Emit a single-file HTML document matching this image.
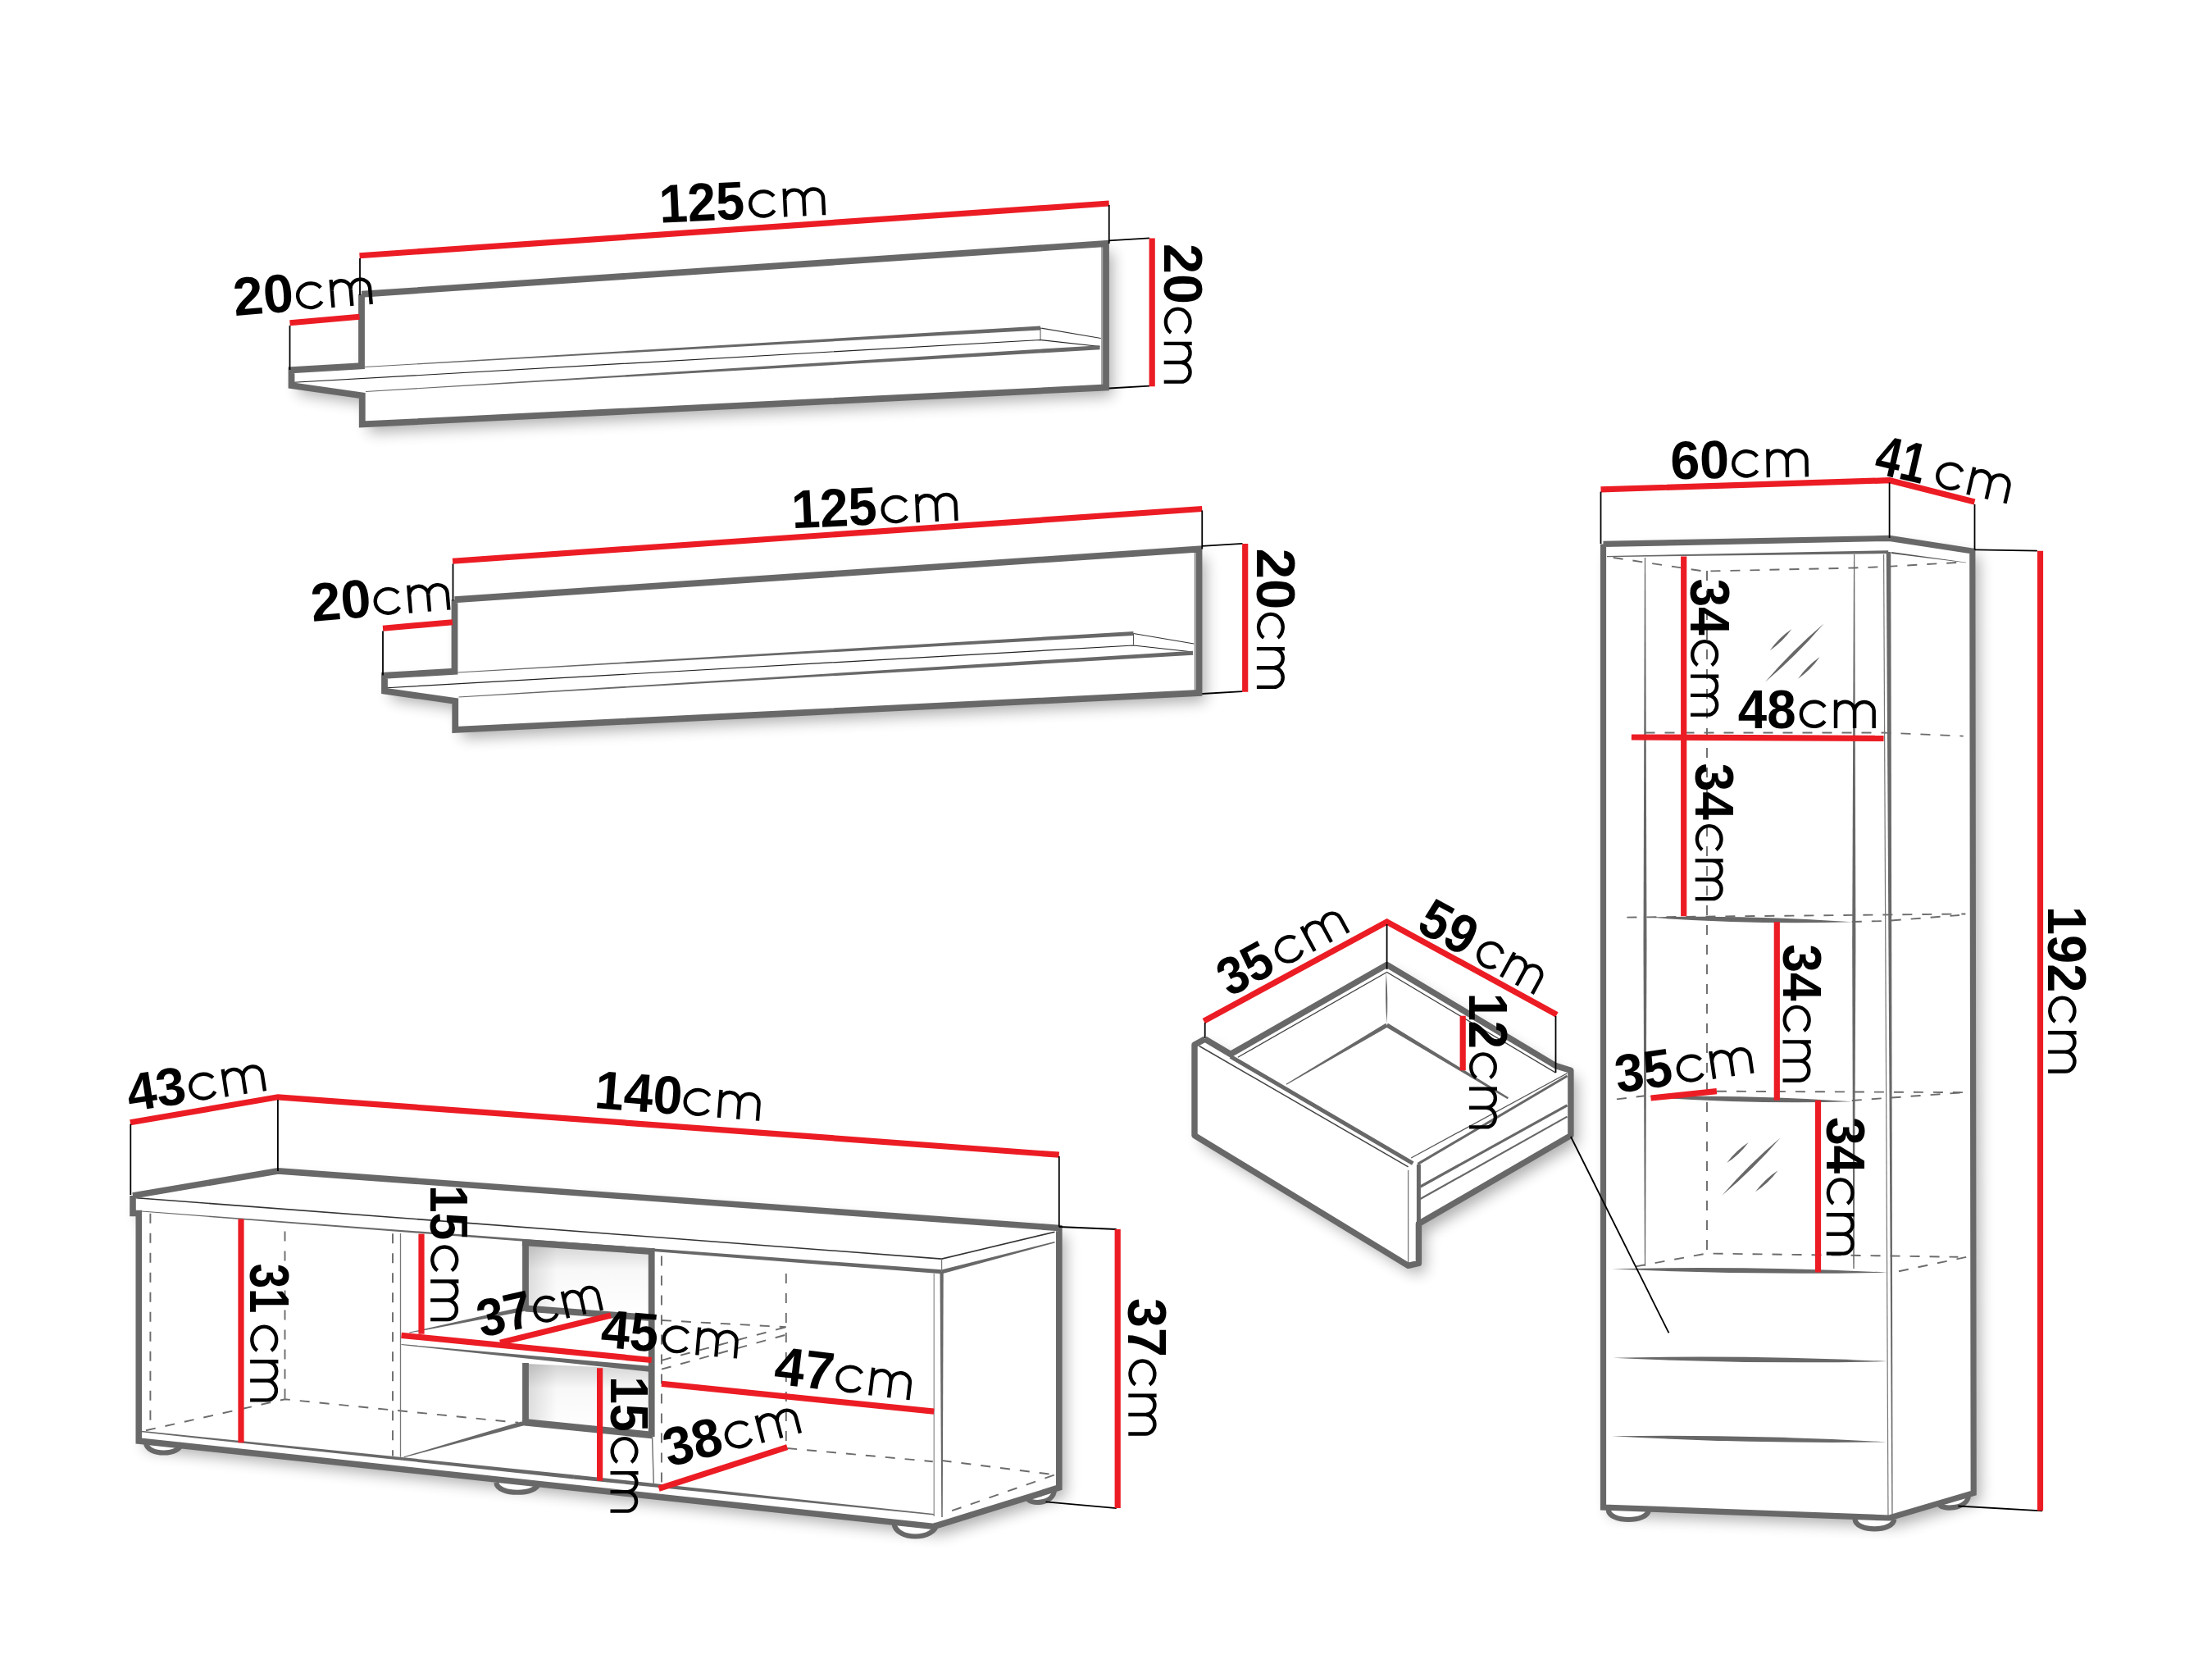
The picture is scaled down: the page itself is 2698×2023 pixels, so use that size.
<!DOCTYPE html><html><head><meta charset="utf-8"><style>html,body{margin:0;padding:0;background:#fff;overflow:hidden}svg{display:block}text{font-family:"Liberation Sans",sans-serif;fill:#000}</style></head><body>
<svg width="2698" height="2023" viewBox="0 0 2698 2023">
<defs><filter id="blur" x="-20%" y="-50%" width="140%" height="200%"><feGaussianBlur stdDeviation="8"/></filter><filter id="ds" x="-20%" y="-20%" width="140%" height="140%"><feGaussianBlur in="SourceAlpha" stdDeviation="9"/><feOffset dx="8" dy="10"/><feComponentTransfer><feFuncA type="linear" slope="0.32"/></feComponentTransfer></filter>
<linearGradient id="niche" x1="0" y1="0" x2="0" y2="1"><stop offset="0" stop-color="#d2d2d2"/><stop offset="0.35" stop-color="#f8f8f8"/><stop offset="1" stop-color="#fff"/></linearGradient><linearGradient id="nicheL" x1="0" y1="0" x2="1" y2="0"><stop offset="0" stop-color="#000" stop-opacity="0.13"/><stop offset="0.25" stop-color="#000" stop-opacity="0"/></linearGradient></defs>
<rect width="2698" height="2023" fill="#fff"/>
<g transform="translate(0.00 0.00)">
<polygon points="441,358.75 1349,297 1349,472.5 441.75,517.5 441.75,482.5 355.5,470 355.5,451.25 441,446.25" fill="#000" filter="url(#ds)"/>
<polygon points="441,358.75 1349,297 1349,472.5 441.75,517.5 441.75,482.5 355.5,470 355.5,451.25 441,446.25" fill="#fff"/>
<polygon points="444.77,447.90 1269.14,402.40 1268.86,397.60 444.73,447.10" fill="#686868"/>
<polyline points="1269.00,400.00 1342.75,412.50" fill="none" stroke="#333" stroke-width="1.20" stroke-linecap="butt" stroke-linejoin="miter"/>
<polyline points="358.50,466.25 1269.00,414.50 1341.50,422.50" fill="none" stroke="#222" stroke-width="1.20" stroke-linecap="butt" stroke-linejoin="miter"/>
<polyline points="1269.00,400.00 1269.00,414.00" fill="none" stroke="#555" stroke-width="1.00" stroke-linecap="butt" stroke-linejoin="miter"/>
<polygon points="446.02,477.90 1341.66,426.35 1341.34,421.15 445.98,477.10" fill="#686868"/>
<polyline points="1344.00,301.00 1344.00,470.00" fill="none" stroke="#888" stroke-width="1.50" stroke-linecap="butt" stroke-linejoin="miter"/>
<polyline points="441.00,358.75 1349.00,297.00 1349.00,472.50 441.75,517.50 441.75,482.50 355.50,470.00 355.50,451.25 441.00,446.25 441.00,358.75" fill="none" stroke="#686868" stroke-width="7.80" stroke-linecap="butt" stroke-linejoin="miter"/>
<polyline points="438.50,311.75 1352.75,248.00" fill="none" stroke="#ec1c24" stroke-width="7.20" stroke-linecap="butt" stroke-linejoin="miter"/>
<polyline points="439.00,315.00 439.00,360.00" fill="none" stroke="#000" stroke-width="1.80" stroke-linecap="butt" stroke-linejoin="miter"/>
<polyline points="1352.75,250.00 1352.75,297.00" fill="none" stroke="#000" stroke-width="1.80" stroke-linecap="butt" stroke-linejoin="miter"/>
<polyline points="1352.80,293.30 1402.00,290.40" fill="none" stroke="#000" stroke-width="1.80" stroke-linecap="butt" stroke-linejoin="miter"/>
<polyline points="1352.80,473.50 1402.00,470.60" fill="none" stroke="#000" stroke-width="1.80" stroke-linecap="butt" stroke-linejoin="miter"/>
<polyline points="1405.20,290.40 1405.20,471.30" fill="none" stroke="#ec1c24" stroke-width="7.20" stroke-linecap="butt" stroke-linejoin="miter"/>
<polyline points="353.50,393.75 438.50,386.25" fill="none" stroke="#ec1c24" stroke-width="7.20" stroke-linecap="butt" stroke-linejoin="miter"/>
<polyline points="353.50,397.00 353.50,451.00" fill="none" stroke="#000" stroke-width="1.80" stroke-linecap="butt" stroke-linejoin="miter"/>
</g>
<g transform="translate(288.60 385.10) rotate(-4.90)"><text x="-2.29" y="0" font-size="65.90" font-weight="bold" textLength="73.39" lengthAdjust="spacingAndGlyphs">20</text><path d="M105.15,-25.50 A15.85 14.81 0 1 0 105.15,-8.50 M118.32,0.00 L118.32,-34.00 M118.32,-20.89 A11.49 10.98 0 0 1 141.30,-20.89 L141.30,0.00 M141.30,-20.89 A11.74 10.98 0 0 1 164.77,-20.89 L164.77,0.00" fill="none" stroke="#000" stroke-width="4.37"/></g>
<g transform="translate(808.80 271.50) rotate(-2.70)"><text x="-3.93" y="0" font-size="65.90" font-weight="bold" textLength="104.17" lengthAdjust="spacingAndGlyphs">125</text><path d="M136.38,-25.88 A15.97 15.03 0 1 0 136.38,-8.62 M149.65,0.00 L149.65,-34.50 M149.65,-21.19 A11.58 11.14 0 0 1 172.81,-21.19 L172.81,0.00 M172.81,-21.19 A11.82 11.14 0 0 1 196.45,-21.19 L196.45,0.00" fill="none" stroke="#000" stroke-width="4.44"/></g>
<g transform="translate(1419.70 299.40) rotate(90.00)"><text x="-2.31" y="0" font-size="67.34" font-weight="bold" textLength="74.04" lengthAdjust="spacingAndGlyphs">20</text><path d="M106.25,-25.50 A15.95 14.81 0 1 0 106.25,-8.50 M119.51,0.00 L119.51,-34.00 M119.51,-20.89 A11.56 10.98 0 0 1 142.63,-20.89 L142.63,0.00 M142.63,-20.89 A11.81 10.98 0 0 1 166.26,-20.89 L166.26,0.00" fill="none" stroke="#000" stroke-width="4.37"/></g>
<g transform="translate(113.50 372.50)">
<polygon points="441,358.75 1349,297 1349,472.5 441.75,517.5 441.75,482.5 355.5,470 355.5,451.25 441,446.25" fill="#000" filter="url(#ds)"/>
<polygon points="441,358.75 1349,297 1349,472.5 441.75,517.5 441.75,482.5 355.5,470 355.5,451.25 441,446.25" fill="#fff"/>
<polygon points="444.77,447.90 1269.14,402.40 1268.86,397.60 444.73,447.10" fill="#686868"/>
<polyline points="1269.00,400.00 1342.75,412.50" fill="none" stroke="#333" stroke-width="1.20" stroke-linecap="butt" stroke-linejoin="miter"/>
<polyline points="358.50,466.25 1269.00,414.50 1341.50,422.50" fill="none" stroke="#222" stroke-width="1.20" stroke-linecap="butt" stroke-linejoin="miter"/>
<polyline points="1269.00,400.00 1269.00,414.00" fill="none" stroke="#555" stroke-width="1.00" stroke-linecap="butt" stroke-linejoin="miter"/>
<polygon points="446.02,477.90 1341.66,426.35 1341.34,421.15 445.98,477.10" fill="#686868"/>
<polyline points="1344.00,301.00 1344.00,470.00" fill="none" stroke="#888" stroke-width="1.50" stroke-linecap="butt" stroke-linejoin="miter"/>
<polyline points="441.00,358.75 1349.00,297.00 1349.00,472.50 441.75,517.50 441.75,482.50 355.50,470.00 355.50,451.25 441.00,446.25 441.00,358.75" fill="none" stroke="#686868" stroke-width="7.80" stroke-linecap="butt" stroke-linejoin="miter"/>
<polyline points="438.50,311.75 1352.75,248.00" fill="none" stroke="#ec1c24" stroke-width="7.20" stroke-linecap="butt" stroke-linejoin="miter"/>
<polyline points="439.00,315.00 439.00,360.00" fill="none" stroke="#000" stroke-width="1.80" stroke-linecap="butt" stroke-linejoin="miter"/>
<polyline points="1352.75,250.00 1352.75,297.00" fill="none" stroke="#000" stroke-width="1.80" stroke-linecap="butt" stroke-linejoin="miter"/>
<polyline points="1352.80,293.30 1402.00,290.40" fill="none" stroke="#000" stroke-width="1.80" stroke-linecap="butt" stroke-linejoin="miter"/>
<polyline points="1352.80,473.50 1402.00,470.60" fill="none" stroke="#000" stroke-width="1.80" stroke-linecap="butt" stroke-linejoin="miter"/>
<polyline points="1405.20,290.40 1405.20,471.30" fill="none" stroke="#ec1c24" stroke-width="7.20" stroke-linecap="butt" stroke-linejoin="miter"/>
<polyline points="353.50,393.75 438.50,386.25" fill="none" stroke="#ec1c24" stroke-width="7.20" stroke-linecap="butt" stroke-linejoin="miter"/>
<polyline points="353.50,397.00 353.50,451.00" fill="none" stroke="#000" stroke-width="1.80" stroke-linecap="butt" stroke-linejoin="miter"/>
</g>
<g transform="translate(383.20 757.70) rotate(-4.90)"><text x="-2.29" y="0" font-size="65.90" font-weight="bold" textLength="73.39" lengthAdjust="spacingAndGlyphs">20</text><path d="M105.15,-25.50 A15.85 14.81 0 1 0 105.15,-8.50 M118.32,0.00 L118.32,-34.00 M118.32,-20.89 A11.49 10.98 0 0 1 141.30,-20.89 L141.30,0.00 M141.30,-20.89 A11.74 10.98 0 0 1 164.77,-20.89 L164.77,0.00" fill="none" stroke="#000" stroke-width="4.37"/></g>
<g transform="translate(970.30 644.10) rotate(-2.70)"><text x="-3.93" y="0" font-size="65.90" font-weight="bold" textLength="104.17" lengthAdjust="spacingAndGlyphs">125</text><path d="M136.38,-25.88 A15.97 15.03 0 1 0 136.38,-8.62 M149.65,0.00 L149.65,-34.50 M149.65,-21.19 A11.58 11.14 0 0 1 172.81,-21.19 L172.81,0.00 M172.81,-21.19 A11.82 11.14 0 0 1 196.45,-21.19 L196.45,0.00" fill="none" stroke="#000" stroke-width="4.44"/></g>
<g transform="translate(1532.90 671.10) rotate(90.00)"><text x="-2.32" y="0" font-size="67.34" font-weight="bold" textLength="74.57" lengthAdjust="spacingAndGlyphs">20</text><path d="M106.75,-25.50 A15.95 14.81 0 1 0 106.75,-8.50 M120.01,0.00 L120.01,-34.00 M120.01,-20.89 A11.56 10.98 0 0 1 143.13,-20.89 L143.13,0.00 M143.13,-20.89 A11.81 10.98 0 0 1 166.76,-20.89 L166.76,0.00" fill="none" stroke="#000" stroke-width="4.37"/></g>
<polygon points="162,1458 338.9,1427.9 1291.8,1496 1291.8,1814 1139.1,1861.5 169.3,1757 169.3,1479.5 162,1479.5" fill="#000" filter="url(#ds)"/>
<polygon points="162,1458 338.9,1427.9 1291.8,1496 1291.8,1814 1139.1,1861.5 169.3,1757 169.3,1479.5 162,1479.5" fill="#fff"/>
<polygon points="641,1517 795,1527 795,1606 641,1594" fill="url(#niche)"/>
<polygon points="641,1517 795,1527 795,1606 641,1594" fill="url(#nicheL)"/>
<polygon points="641,1663 795,1670 795,1749 641,1733" fill="url(#niche)"/>
<polygon points="641,1663 795,1670 795,1749 641,1733" fill="url(#nicheL)"/>
<path d="M178.00,1759.00 C178.87,1775.70 220.53,1775.70 221.40,1759.00" fill="#fff" stroke="#686868" stroke-width="6.20"/>
<path d="M605.40,1808.00 C606.43,1823.70 655.97,1823.70 657.00,1808.00" fill="#fff" stroke="#686868" stroke-width="6.20"/>
<path d="M1090.50,1857.00 C1091.54,1879.00 1141.46,1879.00 1142.50,1857.00" fill="#fff" stroke="#686868" stroke-width="6.20"/>
<path d="M1253.50,1826.50 C1254.15,1835.00 1285.35,1835.00 1286.00,1816.50" fill="#fff" stroke="#686868" stroke-width="6.20"/>
<polyline points="183.40,1479.80 183.40,1743.00" fill="none" stroke="#6c6c6c" stroke-width="1.90" stroke-dasharray="12 12"/>
<polyline points="347.50,1501.50 347.50,1706.30" fill="none" stroke="#6c6c6c" stroke-width="1.90" stroke-dasharray="12 12"/>
<polyline points="479.00,1504.20 479.00,1775.50" fill="none" stroke="#6c6c6c" stroke-width="1.90" stroke-dasharray="12 12"/>
<polyline points="806.90,1531.40 806.90,1808.00" fill="none" stroke="#6c6c6c" stroke-width="1.90" stroke-dasharray="12 12"/>
<polyline points="958.80,1553.00 958.80,1767.30" fill="none" stroke="#6c6c6c" stroke-width="1.90" stroke-dasharray="12 12"/>
<polyline points="178.00,1744.30 347.50,1706.30 632.30,1734.80" fill="none" stroke="#6c6c6c" stroke-width="1.90" stroke-dasharray="12 12"/>
<polyline points="806.90,1610.00 958.80,1618.20" fill="none" stroke="#6c6c6c" stroke-width="1.90" stroke-dasharray="12 12"/>
<polyline points="806.90,1658.80 958.80,1618.20" fill="none" stroke="#6c6c6c" stroke-width="1.90" stroke-dasharray="12 12"/>
<polyline points="806.90,1669.70 958.80,1627.60" fill="none" stroke="#6c6c6c" stroke-width="1.90" stroke-dasharray="12 12"/>
<polyline points="960.20,1766.00 1137.80,1782.20" fill="none" stroke="#6c6c6c" stroke-width="1.90" stroke-dasharray="12 12"/>
<polyline points="1148.60,1781.00 1286.50,1798.40" fill="none" stroke="#6c6c6c" stroke-width="1.90" stroke-dasharray="12 12"/>
<polyline points="1161.10,1842.20 1286.50,1798.40" fill="none" stroke="#6c6c6c" stroke-width="1.90" stroke-dasharray="12 12"/>
<polyline points="166.30,1460.70 1148.60,1535.10 1286.50,1502.20" fill="none" stroke="#333" stroke-width="1.60" stroke-linecap="butt" stroke-linejoin="miter"/>
<polygon points="172.46,1477.60 1148.41,1553.29 1148.79,1548.31 172.54,1476.60" fill="#686868"/>
<polygon points="1149.23,1553.22 1286.69,1515.53 1286.31,1514.07 1147.97,1548.38" fill="#686868"/>
<polyline points="1148.60,1535.10 1148.60,1550.80" fill="none" stroke="#777" stroke-width="1.20" stroke-linecap="butt" stroke-linejoin="miter"/>
<polygon points="1146.50,1551.00 1148.25,1850.00 1149.75,1850.00 1150.70,1551.00" fill="#686868"/>
<polyline points="1139.20,1553.00 1139.20,1849.00" fill="none" stroke="#888" stroke-width="1.20" stroke-linecap="butt" stroke-linejoin="miter"/>
<polygon points="172.42,1746.35 699.74,1803.39 700.26,1798.41 172.58,1744.85" fill="#686868"/>
<polygon points="699.74,1803.39 1139.12,1847.55 1139.28,1846.05 700.26,1798.41" fill="#686868"/>
<polyline points="488.50,1504.00 488.50,1776.80" fill="none" stroke="#777" stroke-width="1.30" stroke-linecap="butt" stroke-linejoin="miter"/>
<polygon points="499.40,1625.59 641.46,1598.49 640.34,1593.11 499.20,1624.61" fill="#686868"/>
<polyline points="640.90,1595.50 794.70,1607.00" fill="none" stroke="#686868" stroke-width="8.00" stroke-linecap="butt" stroke-linejoin="miter"/>
<polygon points="489.45,1640.00 794.36,1672.98 795.04,1666.02 489.55,1639.00" fill="#686868"/>
<polyline points="641.00,1512.00 641.00,1598.00" fill="none" stroke="#686868" stroke-width="7.80" stroke-linecap="butt" stroke-linejoin="miter"/>
<polyline points="637.00,1515.00 794.70,1526.00" fill="none" stroke="#686868" stroke-width="8.00" stroke-linecap="butt" stroke-linejoin="miter"/>
<polyline points="794.70,1522.00 794.70,1752.00" fill="none" stroke="#686868" stroke-width="7.80" stroke-linecap="butt" stroke-linejoin="miter"/>
<polyline points="795.50,1750.00 797.30,1809.90" fill="none" stroke="#777" stroke-width="1.50" stroke-linecap="butt" stroke-linejoin="miter"/>
<polyline points="641.00,1662.00 641.00,1738.00" fill="none" stroke="#686868" stroke-width="7.80" stroke-linecap="butt" stroke-linejoin="miter"/>
<polyline points="637.30,1734.00 795.30,1750.00" fill="none" stroke="#686868" stroke-width="8.50" stroke-linecap="butt" stroke-linejoin="miter"/>
<polygon points="492.74,1777.28 638.05,1738.55 636.55,1733.25 492.46,1776.32" fill="#686868"/>
<polyline points="162.00,1458.00 338.90,1427.90 1291.80,1497.50 1291.80,1814.00 1139.10,1861.50 169.30,1757.00 169.30,1479.50 162.00,1479.50 162.00,1458.00" fill="none" stroke="#686868" stroke-width="7.60" stroke-linecap="butt" stroke-linejoin="miter"/>
<polyline points="158.80,1368.80 338.90,1337.80 1291.80,1408.20" fill="none" stroke="#ec1c24" stroke-width="7.20" stroke-linecap="butt" stroke-linejoin="miter"/>
<polyline points="159.30,1370.70 159.30,1457.00" fill="none" stroke="#000" stroke-width="1.80" stroke-linecap="butt" stroke-linejoin="miter"/>
<polyline points="338.90,1341.00 338.90,1428.00" fill="none" stroke="#000" stroke-width="1.80" stroke-linecap="butt" stroke-linejoin="miter"/>
<polyline points="1291.80,1410.00 1291.80,1496.00" fill="none" stroke="#000" stroke-width="1.80" stroke-linecap="butt" stroke-linejoin="miter"/>
<polyline points="1291.80,1496.00 1361.70,1499.00" fill="none" stroke="#000" stroke-width="1.80" stroke-linecap="butt" stroke-linejoin="miter"/>
<polyline points="1275.50,1831.30 1361.70,1839.10" fill="none" stroke="#000" stroke-width="1.80" stroke-linecap="butt" stroke-linejoin="miter"/>
<polyline points="1363.20,1499.00 1363.20,1839.00" fill="none" stroke="#ec1c24" stroke-width="7.20" stroke-linecap="butt" stroke-linejoin="miter"/>
<polyline points="294.00,1486.60 294.00,1759.20" fill="none" stroke="#ec1c24" stroke-width="7.20" stroke-linecap="butt" stroke-linejoin="miter"/>
<polyline points="514.00,1504.60 514.00,1626.70" fill="none" stroke="#ec1c24" stroke-width="7.20" stroke-linecap="butt" stroke-linejoin="miter"/>
<polyline points="489.50,1628.30 794.70,1658.50" fill="none" stroke="#ec1c24" stroke-width="7.20" stroke-linecap="butt" stroke-linejoin="miter"/>
<polyline points="610.00,1637.30 745.00,1603.90" fill="none" stroke="#ec1c24" stroke-width="7.20" stroke-linecap="butt" stroke-linejoin="miter"/>
<polyline points="731.60,1668.30 731.60,1805.80" fill="none" stroke="#ec1c24" stroke-width="7.20" stroke-linecap="butt" stroke-linejoin="miter"/>
<polyline points="806.90,1687.30 1139.20,1721.20" fill="none" stroke="#ec1c24" stroke-width="7.20" stroke-linecap="butt" stroke-linejoin="miter"/>
<polyline points="803.50,1815.30 960.20,1764.60" fill="none" stroke="#ec1c24" stroke-width="7.20" stroke-linecap="butt" stroke-linejoin="miter"/>
<g transform="translate(159.20 1355.40) rotate(-8.70)"><text x="-0.98" y="0" font-size="64.90" font-weight="bold" textLength="71.81" lengthAdjust="spacingAndGlyphs">43</text><path d="M105.72,-25.50 A15.93 14.81 0 1 0 105.72,-8.50 M118.96,0.00 L118.96,-34.00 M118.96,-20.89 A11.55 10.98 0 0 1 142.06,-20.89 L142.06,0.00 M142.06,-20.89 A11.80 10.98 0 0 1 165.66,-20.89 L165.66,0.00" fill="none" stroke="#000" stroke-width="4.37"/></g>
<g transform="translate(727.90 1351.20) rotate(4.50)"><text x="-4.04" y="0" font-size="65.90" font-weight="bold" textLength="106.97" lengthAdjust="spacingAndGlyphs">140</text><path d="M136.05,-25.50 A16.10 14.81 0 1 0 136.05,-8.50 M149.44,0.00 L149.44,-34.00 M149.44,-20.89 A11.67 10.98 0 0 1 172.78,-20.89 L172.78,0.00 M172.78,-20.89 A11.93 10.98 0 0 1 196.64,-20.89 L196.64,0.00" fill="none" stroke="#000" stroke-width="4.37"/></g>
<g transform="translate(1376.30 1584.50) rotate(90.00)"><text x="-1.48" y="0" font-size="67.34" font-weight="bold" textLength="71.71" lengthAdjust="spacingAndGlyphs">37</text><path d="M104.05,-25.72 A15.95 14.94 0 1 0 104.05,-8.57 M117.31,0.00 L117.31,-34.30 M117.31,-21.07 A11.56 11.07 0 0 1 140.43,-21.07 L140.43,0.00 M140.43,-21.07 A11.81 11.07 0 0 1 164.06,-21.07 L164.06,0.00" fill="none" stroke="#000" stroke-width="4.41"/></g>
<g transform="translate(305.10 1542.00) rotate(90.00)"><text x="-1.25" y="0" font-size="68.19" font-weight="bold" textLength="60.67" lengthAdjust="spacingAndGlyphs">31</text><path d="M104.95,-25.72 A16.05 14.94 0 1 0 104.95,-8.57 M118.29,0.00 L118.29,-34.30 M118.29,-21.07 A11.64 11.07 0 0 1 141.57,-21.07 L141.57,0.00 M141.57,-21.07 A11.89 11.07 0 0 1 165.34,-21.07 L165.34,0.00" fill="none" stroke="#000" stroke-width="4.41"/></g>
<g transform="translate(525.10 1449.00) rotate(90.00)"><text x="-3.79" y="0" font-size="65.62" font-weight="bold" textLength="66.97" lengthAdjust="spacingAndGlyphs">15</text><path d="M100.35,-25.72 A15.85 14.94 0 1 0 100.35,-8.57 M113.52,0.00 L113.52,-34.30 M113.52,-21.07 A11.49 11.07 0 0 1 136.50,-21.07 L136.50,0.00 M136.50,-21.07 A11.74 11.07 0 0 1 159.97,-21.07 L159.97,0.00" fill="none" stroke="#000" stroke-width="4.41"/></g>
<g transform="translate(588.80 1630.80) rotate(-12.76)"><text x="-1.38" y="0" font-size="64.47" font-weight="bold" textLength="66.92" lengthAdjust="spacingAndGlyphs">37</text><path d="M95.14,-24.75 A14.26 14.38 0 1 0 95.14,-8.25 M106.99,0.00 L106.99,-33.00 M106.99,-20.27 A10.34 10.65 0 0 1 127.66,-20.27 L127.66,0.00 M127.66,-20.27 A10.56 10.65 0 0 1 148.78,-20.27 L148.78,0.00" fill="none" stroke="#000" stroke-width="4.24"/></g>
<g transform="translate(732.60 1642.60) rotate(4.78)"><text x="-0.95" y="0" font-size="65.90" font-weight="bold" textLength="70.11" lengthAdjust="spacingAndGlyphs">45</text><path d="M104.88,-25.50 A15.91 14.81 0 1 0 104.88,-8.50 M118.11,0.00 L118.11,-34.00 M118.11,-20.89 A11.54 10.98 0 0 1 141.19,-20.89 L141.19,0.00 M141.19,-20.89 A11.79 10.98 0 0 1 164.76,-20.89 L164.76,0.00" fill="none" stroke="#000" stroke-width="4.37"/></g>
<g transform="translate(943.70 1687.40) rotate(6.81)"><text x="-0.99" y="0" font-size="65.90" font-weight="bold" textLength="72.66" lengthAdjust="spacingAndGlyphs">47</text><path d="M105.25,-25.50 A15.85 14.81 0 1 0 105.25,-8.50 M118.42,0.00 L118.42,-34.00 M118.42,-20.89 A11.49 10.98 0 0 1 141.40,-20.89 L141.40,0.00 M141.40,-20.89 A11.74 10.98 0 0 1 164.87,-20.89 L164.87,0.00" fill="none" stroke="#000" stroke-width="4.37"/></g>
<g transform="translate(817.20 1788.70) rotate(-14.50)"><text x="-1.47" y="0" font-size="65.90" font-weight="bold" textLength="71.35" lengthAdjust="spacingAndGlyphs">38</text><path d="M104.52,-25.50 A15.78 14.81 0 1 0 104.52,-8.50 M117.63,0.00 L117.63,-34.00 M117.63,-20.89 A11.44 10.98 0 0 1 140.51,-20.89 L140.51,0.00 M140.51,-20.89 A11.69 10.98 0 0 1 163.88,-20.89 L163.88,0.00" fill="none" stroke="#000" stroke-width="4.37"/></g>
<g transform="translate(744.50 1682.00) rotate(90.00)"><text x="-3.83" y="0" font-size="65.62" font-weight="bold" textLength="67.62" lengthAdjust="spacingAndGlyphs">15</text><path d="M100.95,-25.50 A15.85 14.81 0 1 0 100.95,-8.50 M114.12,0.00 L114.12,-34.00 M114.12,-20.89 A11.49 10.98 0 0 1 137.10,-20.89 L137.10,0.00 M137.10,-20.89 A11.74 10.98 0 0 1 160.57,-20.89 L160.57,0.00" fill="none" stroke="#000" stroke-width="4.37"/></g>
<polygon points="1469.7,1267 1457,1274.1 1457,1384.6 1717.6,1543.3 1730.4,1540.4 1730.4,1492.3 1915.9,1384.6 1915.9,1305.3 1897.5,1299.6 1691.6,1176.4 1500.9,1285.5" fill="#000" filter="url(#ds)"/>
<polygon points="1469.7,1267 1457,1274.1 1457,1384.6 1717.6,1543.3 1730.4,1540.4 1730.4,1492.3 1915.9,1384.6 1915.9,1305.3 1897.5,1299.6 1691.6,1176.4 1500.9,1285.5" fill="#fff"/>
<polyline points="1462.70,1275.50 1717.60,1422.90" fill="none" stroke="#444" stroke-width="1.50" stroke-linecap="butt" stroke-linejoin="miter"/>
<polyline points="1500.90,1288.30 1723.30,1418.60" fill="none" stroke="#686868" stroke-width="5.00" stroke-linecap="butt" stroke-linejoin="miter"/>
<polyline points="1717.60,1427.00 1717.60,1540.00" fill="none" stroke="#777" stroke-width="1.30" stroke-linecap="butt" stroke-linejoin="miter"/>
<polyline points="1730.40,1420.00 1730.40,1540.40" fill="none" stroke="#686868" stroke-width="5.00" stroke-linecap="butt" stroke-linejoin="miter"/>
<polyline points="1509.90,1289.20 1691.60,1185.50 1897.50,1308.10" fill="none" stroke="#444" stroke-width="1.30" stroke-linecap="butt" stroke-linejoin="miter"/>
<path d="M1690.80,1186.30 Q1689.00,1217.48 1691.60,1248.60 Q1693.40,1217.42 1690.80,1186.30 Z" fill="#686868"/>
<polygon points="1569.20,1322.82 1692.92,1252.24 1690.28,1247.76 1568.60,1321.78" fill="#686868"/>
<polygon points="1690.26,1252.23 1838.75,1340.37 1840.05,1338.23 1692.94,1247.77" fill="#686868"/>
<polyline points="1721.20,1412.00 1911.50,1308.70" fill="none" stroke="#555" stroke-width="1.30" stroke-linecap="butt" stroke-linejoin="miter"/>
<polyline points="1729.30,1419.40 1911.50,1312.00" fill="none" stroke="#686868" stroke-width="3.00" stroke-linecap="butt" stroke-linejoin="miter"/>
<polyline points="1732.50,1447.00 1911.50,1347.80" fill="none" stroke="#686868" stroke-width="3.20" stroke-linecap="butt" stroke-linejoin="miter"/>
<polyline points="1730.10,1463.30 1911.50,1361.60" fill="none" stroke="#686868" stroke-width="2.20" stroke-linecap="butt" stroke-linejoin="miter"/>
<polyline points="1469.70,1267.00 1457.00,1274.10 1457.00,1384.60 1717.60,1543.30 1730.40,1540.40 1730.40,1492.30 1915.90,1384.60 1915.90,1305.30 1897.50,1299.60 1691.60,1176.40 1500.90,1285.50 1469.70,1267.00" fill="none" stroke="#686868" stroke-width="7.40" stroke-linecap="butt" stroke-linejoin="round"/>
<polyline points="1468.30,1245.20 1691.60,1124.00 1898.90,1237.30" fill="none" stroke="#ec1c24" stroke-width="7.20" stroke-linecap="butt" stroke-linejoin="miter"/>
<polyline points="1469.70,1247.00 1469.70,1266.00" fill="none" stroke="#000" stroke-width="1.80" stroke-linecap="butt" stroke-linejoin="miter"/>
<polyline points="1691.60,1127.00 1691.60,1182.00" fill="none" stroke="#000" stroke-width="1.80" stroke-linecap="butt" stroke-linejoin="miter"/>
<polyline points="1897.50,1239.00 1897.50,1308.00" fill="none" stroke="#000" stroke-width="1.80" stroke-linecap="butt" stroke-linejoin="miter"/>
<polyline points="1784.20,1238.70 1784.20,1305.30" fill="none" stroke="#ec1c24" stroke-width="7.20" stroke-linecap="butt" stroke-linejoin="miter"/>
<g transform="translate(1501.00 1215.50) rotate(-28.50)"><text x="-1.38" y="0" font-size="64.47" font-weight="bold" textLength="66.75" lengthAdjust="spacingAndGlyphs">35</text><path d="M103.62,-25.50 A15.88 14.81 0 1 0 103.62,-8.50 M116.82,0.00 L116.82,-34.00 M116.82,-20.89 A11.51 10.98 0 0 1 139.84,-20.89 L139.84,0.00 M139.84,-20.89 A11.76 10.98 0 0 1 163.37,-20.89 L163.37,0.00" fill="none" stroke="#000" stroke-width="4.37"/></g>
<g transform="translate(1727.50 1134.80) rotate(28.60)"><text x="-1.91" y="0" font-size="66.62" font-weight="bold" textLength="69.22" lengthAdjust="spacingAndGlyphs">59</text><path d="M105.77,-25.50 A14.69 14.81 0 1 0 105.77,-8.50 M117.98,0.00 L117.98,-34.00 M117.98,-20.89 A10.65 10.98 0 0 1 139.27,-20.89 L139.27,0.00 M139.27,-20.89 A10.88 10.98 0 0 1 161.03,-20.89 L161.03,0.00" fill="none" stroke="#000" stroke-width="4.37"/></g>
<g transform="translate(1792.00 1214.50) rotate(90.00)"><text x="-3.87" y="0" font-size="67.34" font-weight="bold" textLength="68.33" lengthAdjust="spacingAndGlyphs">12</text><path d="M99.85,-25.50 A15.95 14.81 0 1 0 99.85,-8.50 M113.11,0.00 L113.11,-34.00 M113.11,-20.89 A11.56 10.98 0 0 1 136.23,-20.89 L136.23,0.00 M136.23,-20.89 A11.81 10.98 0 0 1 159.86,-20.89 L159.86,0.00" fill="none" stroke="#000" stroke-width="4.37"/></g>
<polygon points="1955.5,663.4 2304.6,656.4 2405.8,668.9 2407.2,1820.6 2304.5,1851 1955.5,1838" fill="#000" filter="url(#ds)"/>
<polygon points="1955.5,663.4 2304.6,656.4 2405.8,668.9 2407.2,1820.6 2304.5,1851 1955.5,1838" fill="#fff"/>
<path d="M1961.70,1841.00 C1962.68,1857.00 2009.92,1857.00 2010.90,1841.00" fill="#fff" stroke="#686868" stroke-width="6.20"/>
<path d="M2262.50,1852.50 C2263.46,1868.40 2309.34,1868.40 2310.30,1852.50" fill="#fff" stroke="#686868" stroke-width="6.20"/>
<path d="M2365.00,1833.50 C2365.72,1841.50 2400.28,1841.50 2401.00,1823.00" fill="#fff" stroke="#686868" stroke-width="6.20"/>
<polyline points="2082.00,696.00 2082.00,1527.00" fill="none" stroke="#6c6c6c" stroke-width="1.90" stroke-dasharray="12 12"/>
<polyline points="1967.70,680.00 2078.60,696.60 2261.60,692.50 2297.60,691.10 2394.70,685.50" fill="none" stroke="#6c6c6c" stroke-width="1.90" stroke-dasharray="12 12"/>
<polyline points="2006.50,893.50 2297.60,893.50 2394.70,897.60" fill="none" stroke="#6c6c6c" stroke-width="1.90" stroke-dasharray="12 12"/>
<polyline points="1984.40,1118.60 2397.40,1114.50" fill="none" stroke="#6c6c6c" stroke-width="1.90" stroke-dasharray="12 12"/>
<polyline points="2258.80,1124.00 2300.00,1123.00 2390.00,1116.00" fill="none" stroke="#6c6c6c" stroke-width="1.90" stroke-dasharray="12 12"/>
<polyline points="1971.90,1340.40 2006.50,1336.20" fill="none" stroke="#6c6c6c" stroke-width="1.90" stroke-dasharray="12 12"/>
<polyline points="2093.90,1330.70 2396.00,1332.10" fill="none" stroke="#6c6c6c" stroke-width="1.90" stroke-dasharray="12 12"/>
<polyline points="2258.80,1342.00 2396.00,1332.10" fill="none" stroke="#6c6c6c" stroke-width="1.90" stroke-dasharray="12 12"/>
<polyline points="1995.00,1544.40 2081.70,1528.50 2301.60,1531.40 2388.40,1532.80" fill="none" stroke="#6c6c6c" stroke-width="1.90" stroke-dasharray="12 12"/>
<polyline points="2316.00,1550.20 2398.50,1532.80" fill="none" stroke="#6c6c6c" stroke-width="1.90" stroke-dasharray="12 12"/>
<polygon points="1960.01,679.20 2303.23,675.00 2303.17,671.20 1959.99,678.00" fill="#686868"/>
<polygon points="2306.86,675.09 2397.96,686.30 2398.04,685.70 2307.14,672.91" fill="#555"/>
<polygon points="2300.75,673.01 2307.40,1851.00 2308.60,1851.00 2306.25,672.99" fill="#686868"/>
<polyline points="2297.60,676.00 2303.00,1851.00" fill="none" stroke="#777" stroke-width="1.20" stroke-linecap="butt" stroke-linejoin="miter"/>
<polygon points="2005.90,680.00 2004.50,1150.00 2008.50,1150.00 2007.10,680.00" fill="#686868"/>
<polygon points="2004.50,1150.00 2005.90,1544.00 2007.10,1544.00 2008.50,1150.00" fill="#686868"/>
<polygon points="2261.00,676.00 2259.20,1150.00 2263.40,1150.00 2262.20,676.00" fill="#686868"/>
<polygon points="2259.20,1150.00 2260.30,1547.00 2261.70,1547.00 2263.40,1150.00" fill="#686868"/>
<path d="M2009.30,1118.60 Q2133.91,1127.60 2258.80,1124.20 Q2134.19,1115.20 2009.30,1118.60 Z" fill="#686868"/>
<path d="M2009.30,1337.60 Q2133.91,1346.60 2258.80,1343.20 Q2134.19,1334.20 2009.30,1337.60 Z" fill="#686868"/>
<path d="M1966.00,1547.30 Q2133.72,1555.45 2301.60,1551.60 Q2133.88,1543.45 1966.00,1547.30 Z" fill="#686868"/>
<path d="M1967.50,1655.80 Q2134.47,1663.95 2301.60,1660.10 Q2134.63,1651.95 1967.50,1655.80 Z" fill="#686868"/>
<path d="M1966.00,1751.20 Q2133.67,1760.80 2301.60,1758.40 Q2133.93,1748.80 1966.00,1751.20 Z" fill="#686868"/>
<path d="M2158.70,793.30 Q2174.43,782.63 2185.40,767.10 Q2169.67,777.77 2158.70,793.30 Z" fill="#686868"/>
<path d="M2152.80,831.80 Q2191.46,799.28 2224.20,760.80 Q2185.54,793.32 2152.80,831.80 Z" fill="#686868"/>
<path d="M2193.00,827.70 Q2208.75,816.75 2219.70,801.00 Q2203.95,811.95 2193.00,827.70 Z" fill="#686868"/>
<path d="M2106.30,1418.00 Q2121.84,1407.97 2132.70,1393.00 Q2117.16,1403.03 2106.30,1418.00 Z" fill="#686868"/>
<path d="M2100.50,1457.60 Q2138.95,1425.54 2171.50,1387.50 Q2133.05,1419.56 2100.50,1457.60 Z" fill="#686868"/>
<path d="M2141.00,1453.30 Q2157.09,1442.72 2168.50,1427.20 Q2152.41,1437.78 2141.00,1453.30 Z" fill="#686868"/>
<polyline points="1955.50,663.40 2304.60,656.40 2405.80,672.00 2407.20,1820.60 2304.50,1851.00 1955.50,1838.00 1955.50,663.40" fill="none" stroke="#686868" stroke-width="7.20" stroke-linecap="butt" stroke-linejoin="miter"/>
<polyline points="1952.50,596.80 2304.60,585.70 2408.50,612.10" fill="none" stroke="#ec1c24" stroke-width="7.20" stroke-linecap="butt" stroke-linejoin="miter"/>
<polyline points="1952.50,599.60 1952.50,663.00" fill="none" stroke="#000" stroke-width="1.80" stroke-linecap="butt" stroke-linejoin="miter"/>
<polyline points="2304.60,588.50 2304.60,656.00" fill="none" stroke="#000" stroke-width="1.80" stroke-linecap="butt" stroke-linejoin="miter"/>
<polyline points="2408.50,614.90 2408.50,670.30" fill="none" stroke="#000" stroke-width="1.80" stroke-linecap="butt" stroke-linejoin="miter"/>
<polyline points="2408.50,670.30 2484.80,671.70" fill="none" stroke="#000" stroke-width="1.80" stroke-linecap="butt" stroke-linejoin="miter"/>
<polyline points="2388.40,1836.50 2491.00,1842.30" fill="none" stroke="#000" stroke-width="1.80" stroke-linecap="butt" stroke-linejoin="miter"/>
<polyline points="2488.50,671.70 2488.50,1842.30" fill="none" stroke="#ec1c24" stroke-width="7.20" stroke-linecap="butt" stroke-linejoin="miter"/>
<polyline points="2053.70,678.60 2053.70,1117.20" fill="none" stroke="#ec1c24" stroke-width="7.20" stroke-linecap="butt" stroke-linejoin="miter"/>
<polyline points="1989.90,899.00 2297.60,900.40" fill="none" stroke="#ec1c24" stroke-width="7.20" stroke-linecap="butt" stroke-linejoin="miter"/>
<polyline points="2167.30,1124.20 2167.30,1341.80" fill="none" stroke="#ec1c24" stroke-width="7.20" stroke-linecap="butt" stroke-linejoin="miter"/>
<polyline points="2013.50,1339.00 2093.90,1330.70" fill="none" stroke="#ec1c24" stroke-width="7.20" stroke-linecap="butt" stroke-linejoin="miter"/>
<polyline points="2217.50,1341.80 2217.50,1551.60" fill="none" stroke="#ec1c24" stroke-width="7.20" stroke-linecap="butt" stroke-linejoin="miter"/>
<g transform="translate(2040.10 584.20) rotate(-1.00)"><text x="-2.36" y="0" font-size="65.90" font-weight="bold" textLength="71.70" lengthAdjust="spacingAndGlyphs">60</text><path d="M103.55,-25.88 A16.00 15.03 0 1 0 103.55,-8.62 M116.85,0.00 L116.85,-34.50 M116.85,-21.19 A11.60 11.14 0 0 1 140.05,-21.19 L140.05,0.00 M140.05,-21.19 A11.85 11.14 0 0 1 163.75,-21.19 L163.75,0.00" fill="none" stroke="#000" stroke-width="4.44"/></g>
<g transform="translate(2285.10 576.70) rotate(13.00)"><text x="-0.83" y="0" font-size="68.77" font-weight="bold" textLength="60.75" lengthAdjust="spacingAndGlyphs">41</text><path d="M105.28,-25.80 A15.76 14.99 0 1 0 105.28,-8.60 M118.38,0.00 L118.38,-34.40 M118.38,-21.13 A11.43 11.11 0 0 1 141.24,-21.13 L141.24,0.00 M141.24,-21.13 A11.67 11.11 0 0 1 164.58,-21.13 L164.58,0.00" fill="none" stroke="#000" stroke-width="4.42"/></g>
<g transform="translate(2062.00 706.90) rotate(90.00)"><text x="-1.43" y="0" font-size="68.19" font-weight="bold" textLength="69.26" lengthAdjust="spacingAndGlyphs">34</text><path d="M104.42,-25.72 A16.03 14.94 0 1 0 104.42,-8.57 M117.75,0.00 L117.75,-34.30 M117.75,-21.07 A11.62 11.07 0 0 1 140.99,-21.07 L140.99,0.00 M140.99,-21.07 A11.88 11.07 0 0 1 164.75,-21.07 L164.75,0.00" fill="none" stroke="#000" stroke-width="4.41"/></g>
<g transform="translate(2120.70 888.00) rotate(0.00)"><text x="-0.96" y="0" font-size="67.34" font-weight="bold" textLength="70.82" lengthAdjust="spacingAndGlyphs">48</text><path d="M105.08,-25.88 A15.91 15.03 0 1 0 105.08,-8.62 M118.31,0.00 L118.31,-34.50 M118.31,-21.19 A11.54 11.14 0 0 1 141.39,-21.19 L141.39,0.00 M141.39,-21.19 A11.79 11.14 0 0 1 164.96,-21.19 L164.96,0.00" fill="none" stroke="#000" stroke-width="4.44"/></g>
<g transform="translate(2174.50 1152.70) rotate(90.00)"><text x="-1.43" y="0" font-size="67.34" font-weight="bold" textLength="69.26" lengthAdjust="spacingAndGlyphs">34</text><path d="M104.35,-25.72 A16.05 14.94 0 1 0 104.35,-8.57 M117.69,0.00 L117.69,-34.30 M117.69,-21.07 A11.64 11.07 0 0 1 140.97,-21.07 L140.97,0.00 M140.97,-21.07 A11.89 11.07 0 0 1 164.74,-21.07 L164.74,0.00" fill="none" stroke="#000" stroke-width="4.41"/></g>
<g transform="translate(1974.60 1332.60) rotate(-8.30)"><text x="-1.44" y="0" font-size="65.19" font-weight="bold" textLength="69.79" lengthAdjust="spacingAndGlyphs">35</text><path d="M104.58,-25.50 A15.91 14.81 0 1 0 104.58,-8.50 M117.81,0.00 L117.81,-34.00 M117.81,-20.89 A11.54 10.98 0 0 1 140.89,-20.89 L140.89,0.00 M140.89,-20.89 A11.79 10.98 0 0 1 164.46,-20.89 L164.46,0.00" fill="none" stroke="#000" stroke-width="4.37"/></g>
<g transform="translate(2227.70 1363.30) rotate(90.00)"><text x="-1.43" y="0" font-size="67.34" font-weight="bold" textLength="69.26" lengthAdjust="spacingAndGlyphs">34</text><path d="M104.55,-25.50 A16.15 14.81 0 1 0 104.55,-8.50 M117.98,0.00 L117.98,-34.00 M117.98,-20.89 A11.71 10.98 0 0 1 141.40,-20.89 L141.40,0.00 M141.40,-20.89 A11.96 10.98 0 0 1 165.33,-20.89 L165.33,0.00" fill="none" stroke="#000" stroke-width="4.37"/></g>
<polyline points="1915.90,1386.00 2035.50,1625.40" fill="none" stroke="#000" stroke-width="1.80" stroke-linecap="butt" stroke-linejoin="miter"/>
<g transform="translate(2067.70 932.00) rotate(90.00)"><text x="-1.43" y="0" font-size="67.34" font-weight="bold" textLength="69.26" lengthAdjust="spacingAndGlyphs">34</text><path d="M104.15,-25.50 A15.95 14.81 0 1 0 104.15,-8.50 M117.41,0.00 L117.41,-34.00 M117.41,-20.89 A11.56 10.98 0 0 1 140.53,-20.89 L140.53,0.00 M140.53,-20.89 A11.81 10.98 0 0 1 164.16,-20.89 L164.16,0.00" fill="none" stroke="#000" stroke-width="4.37"/></g>
<g transform="translate(2498.10 1109.00) rotate(90.00)"><text x="-3.97" y="0" font-size="65.90" font-weight="bold" textLength="105.20" lengthAdjust="spacingAndGlyphs">192</text><path d="M136.98,-25.88 A16.07 15.03 0 1 0 136.98,-8.62 M150.34,0.00 L150.34,-34.50 M150.34,-21.19 A11.65 11.14 0 0 1 173.64,-21.19 L173.64,0.00 M173.64,-21.19 A11.90 11.14 0 0 1 197.44,-21.19 L197.44,0.00" fill="none" stroke="#000" stroke-width="4.44"/></g>
</svg></body></html>
